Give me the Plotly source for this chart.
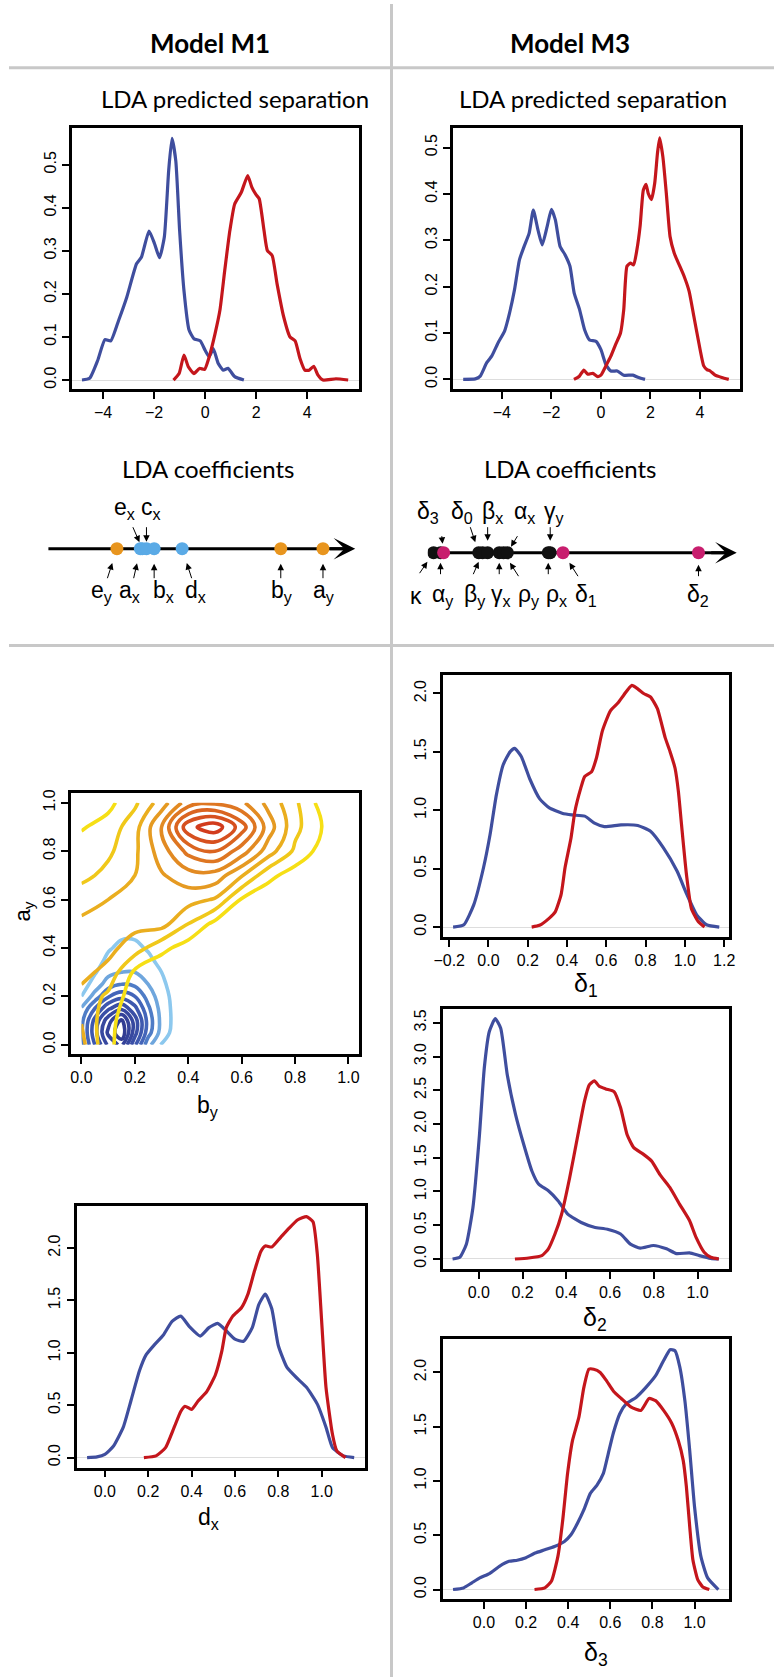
import plotly.graph_objects as go

W, H = 780, 1677

BLUE = "#3F4E9E"
RED = "#C4161C"

# ---------------- LDA predicted separation (density of LD scores) ----------------
m1_sep_blue_x = [-4.83, -4.53, -4.21, -3.93, -3.70, -3.39, -3.07, -2.69, -2.50, -2.20, -1.98, -1.79, -1.60, -1.43, -1.30,
                 -1.15, -1.00, -0.83, -0.63, -0.44, -0.19, 0.0, 0.16, 0.32, 0.51, 0.71, 0.90, 1.16, 1.52]
m1_sep_blue_y = [0, 0.004, 0.046, 0.094, 0.091, 0.139, 0.193, 0.27, 0.285, 0.346, 0.316, 0.284, 0.332, 0.486, 0.561,
                 0.509, 0.347, 0.208, 0.116, 0.096, 0.091, 0.069, 0.054, 0.073, 0.039, 0.023, 0.027, 0.008, 0]
m1_sep_red_x = [-1.24, -1.02, -0.83, -0.66, -0.44, -0.22, -0.02, 0.16, 0.39, 0.58, 0.77, 0.97, 1.16, 1.42, 1.67,
                1.83, 1.99, 2.12, 2.31, 2.44, 2.63, 2.82, 3.08, 3.33, 3.53, 3.72, 3.91, 4.08, 4.26, 4.42, 4.62, 5.13, 5.61]
m1_sep_red_y = [0, 0.015, 0.058, 0.031, 0.015, 0.027, 0.025, 0.054, 0.108, 0.162, 0.255, 0.347, 0.409, 0.436, 0.475,
                0.448, 0.431, 0.421, 0.347, 0.301, 0.289, 0.224, 0.147, 0.100, 0.091, 0.050, 0.023, 0.023, 0.032, 0.012,
                0.0, 0.003, 0]

m3_sep_blue_x = [-5.56, -5.07, -4.87, -4.61, -4.41, -4.15, -3.89, -3.69, -3.49, -3.29, -3.10, -2.90, -2.73, -2.54, -2.37,
                 -2.17, -2.00, -1.84, -1.65, -1.45, -1.25, -1.08, -0.86, -0.66, -0.46, -0.20, 0.0, 0.20, 0.40, 0.66,
                 0.92, 1.29, 1.52, 1.78]
m3_sep_blue_y = [0, 0.001, 0.007, 0.036, 0.05, 0.079, 0.104, 0.143, 0.193, 0.258, 0.287, 0.315, 0.365, 0.322, 0.29,
                 0.33, 0.367, 0.344, 0.287, 0.269, 0.244, 0.186, 0.15, 0.107, 0.085, 0.082, 0.064, 0.032, 0.018, 0.018,
                 0.009, 0.009, 0.004, 0]
m3_sep_red_x = [-1.09, -0.88, -0.69, -0.53, -0.33, -0.13, 0.0, 0.20, 0.40, 0.59, 0.79, 0.92, 1.05, 1.19, 1.32, 1.45,
                1.58, 1.71, 1.82, 1.91, 2.04, 2.17, 2.28, 2.37, 2.50, 2.64, 2.79, 2.96, 3.16, 3.36, 3.56, 3.75, 3.95,
                4.15, 4.28, 4.41, 4.61, 4.88, 5.16]
m3_sep_red_y = [0, 0.006, 0.02, 0.011, 0.013, 0.006, 0.009, 0.029, 0.05, 0.075, 0.10, 0.15, 0.244, 0.251, 0.247, 0.279,
                0.33, 0.408, 0.421, 0.401, 0.388, 0.423, 0.487, 0.521, 0.48, 0.401, 0.308, 0.272, 0.247, 0.222, 0.19,
                0.136, 0.079, 0.029, 0.021, 0.018, 0.009, 0.004, 0]

# ---------------- LDA coefficients (position along the discriminant axis) ----------------
m1_coef_names = ["e<sub>y</sub>", "a<sub>x</sub>", "e<sub>x</sub>", "c<sub>x</sub>", "b<sub>x</sub>", "d<sub>x</sub>",
                 "b<sub>y</sub>", "a<sub>y</sub>"]
m1_coef_vals = [-2.21, -1.60, -1.55, -1.44, -1.24, -0.51, 2.06, 3.16]
m1_coef_group = ["y", "x", "x", "x", "x", "x", "y", "y"]

m3_coef_names = ["κ", "α<sub>y</sub>", "δ<sub>3</sub>", "δ<sub>0</sub>", "β<sub>y</sub>", "β<sub>x</sub>",
                 "γ<sub>x</sub>", "ρ<sub>y</sub>", "α<sub>x</sub>", "ρ<sub>x</sub>", "γ<sub>y</sub>",
                 "δ<sub>1</sub>", "δ<sub>2</sub>"]
m3_coef_vals = [-3.85, -3.67, -3.59, -2.68, -2.58, -2.45, -2.15, -2.04, -1.94, -0.88, -0.83, -0.50, 3.01]
m3_coef_group = ["o", "o", "d", "o", "o", "o", "o", "o", "o", "o", "o", "d", "d"]

# ---------------- joint density of (b_y, a_y): grids ----------------
m1_red_grid_x = [0.0, 0.1, 0.2, 0.3, 0.4, 0.5, 0.6, 0.7, 0.8, 0.9, 1.0]
m1_red_grid_y = [0.0, 0.1, 0.2, 0.3, 0.4, 0.5, 0.6, 0.7, 0.8, 0.9, 1.0]
m1_red_grid_z = [
    [3.3, 1.2, 0.3, 0.0, 0, 0, 0, 0, 0, 0, 0],
    [2.95, 1.3, 0.3, 0.0, 0, 0, 0, 0, 0, 0, 0],
    [2.7, 1.8, 0.4, 0.1, 0, 0, 0, 0, 0, 0, 0],
    [3.3, 2.7, 0.8, 0.2, 0, 0, 0, 0, 0, 0, 0],
    [3.5, 3.3, 2.5, 1.3, 0.5, 0.1, 0, 0, 0, 0, 0],
    [3.2, 3.3, 3.3, 3.4, 2.0, 0.7, 0.2, 0, 0, 0, 0],
    [2.6, 3.0, 3.3, 3.5, 3.4, 2.9, 0.9, 0.3, 0.1, 0, 0],
    [1.7, 2.3, 3.0, 3.9, 4.6, 4.6, 3.1, 1.3, 0.5, 0.1, 0],
    [1.5, 1.8, 2.8, 4.5, 6.3, 7.0, 5.5, 3.5, 1.8, 0.6, 0],
    [0.9, 1.4, 2.6, 5.0, 8.7, 9.6, 7.5, 4.5, 2.3, 1.0, 0.3],
    [0.3, 0.7, 1.8, 3.5, 5.5, 5.8, 5.2, 3.7, 2.2, 0.6, 0.0],
]
m1_blue_grid_x = [0.0, 0.05, 0.10, 0.15, 0.20, 0.25, 0.30, 0.35, 0.40]
m1_blue_grid_y = [0.0, 0.05, 0.10, 0.15, 0.20, 0.25, 0.30, 0.35, 0.40, 0.45, 0.50]
m1_blue_grid_z = [
    [2.6, 5.0, 7.2, 8.3, 5.2, 2.3, 0.9, 0.3, 0.0],
    [2.8, 5.6, 8.2, 9.8, 6.4, 3.4, 1.6, 0.6, 0.1],
    [2.7, 5.3, 7.6, 9.2, 6.5, 3.6, 1.7, 0.7, 0.1],
    [2.1, 4.0, 5.8, 6.8, 5.3, 3.2, 1.6, 0.7, 0.1],
    [1.0, 2.4, 3.9, 4.6, 4.0, 2.6, 1.4, 0.7, 0.1],
    [0.5, 1.4, 2.5, 3.0, 2.8, 2.0, 1.2, 0.6, 0.1],
    [0.3, 0.9, 1.7, 2.0, 2.0, 1.6, 1.0, 0.4, 0.0],
    [0.2, 0.6, 1.2, 1.5, 1.5, 1.2, 0.7, 0.2, 0.0],
    [0.1, 0.3, 0.9, 1.2, 1.2, 0.9, 0.4, 0.1, 0.0],
    [0.0, 0.1, 0.6, 0.9, 0.9, 0.6, 0.2, 0.0, 0.0],
    [0.0, 0.0, 0.3, 0.5, 0.5, 0.3, 0.1, 0.0, 0.0],
]

# ---------------- marginal posteriors ----------------
dx_blue_x = [-0.082, -0.036, 0.0, 0.04, 0.085, 0.12, 0.16, 0.19, 0.23, 0.27, 0.31, 0.35, 0.39, 0.44, 0.48, 0.52,
             0.56, 0.60, 0.64, 0.68, 0.71, 0.74, 0.77, 0.80, 0.84, 0.89, 0.93, 0.98, 1.02, 1.05, 1.10, 1.15]
dx_blue_y = [0, 0.006, 0.03, 0.11, 0.29, 0.54, 0.83, 0.98, 1.08, 1.17, 1.30, 1.35, 1.25, 1.16, 1.24, 1.28,
             1.21, 1.13, 1.11, 1.24, 1.46, 1.56, 1.42, 1.07, 0.86, 0.75, 0.67, 0.51, 0.29, 0.095, 0.016, 0]
dx_red_x = [0.18, 0.236, 0.28, 0.32, 0.35, 0.37, 0.40, 0.43, 0.47, 0.51, 0.54, 0.56, 0.59, 0.63, 0.66, 0.69, 0.72,
            0.74, 0.77, 0.81, 0.85, 0.89, 0.93, 0.96, 0.98, 1.00, 1.02, 1.05, 1.07, 1.11]
dx_red_y = [0, 0.016, 0.095, 0.29, 0.44, 0.49, 0.46, 0.54, 0.63, 0.79, 1.02, 1.24, 1.35, 1.43, 1.56, 1.78, 1.97,
            2.02, 2.01, 2.10, 2.19, 2.27, 2.30, 2.25, 1.94, 1.30, 0.67, 0.22, 0.063, 0]

d1_blue_x = [-0.18, -0.125, -0.075, -0.025, 0.008, 0.04, 0.075, 0.11, 0.133, 0.167, 0.21, 0.26, 0.31, 0.375, 0.425,
             0.49, 0.54, 0.59, 0.675, 0.76, 0.825, 0.89, 0.96, 1.01, 1.06, 1.11, 1.175]
d1_blue_y = [0, 0.02, 0.19, 0.51, 0.79, 1.13, 1.39, 1.50, 1.53, 1.46, 1.27, 1.10, 1.02, 0.975, 0.96,
             0.95, 0.89, 0.86, 0.875, 0.87, 0.82, 0.68, 0.48, 0.28, 0.105, 0.02, 0]
d1_red_x = [0.22, 0.26, 0.31, 0.34, 0.37, 0.39, 0.42, 0.44, 0.47, 0.49, 0.525, 0.55, 0.58, 0.62, 0.66, 0.69, 0.73,
            0.76, 0.79, 0.825, 0.86, 0.90, 0.925, 0.95, 0.967, 0.983, 1.008, 1.033, 1.067, 1.10]
d1_red_y = [0, 0.015, 0.077, 0.13, 0.28, 0.51, 0.76, 0.99, 1.19, 1.29, 1.33, 1.45, 1.68, 1.85, 1.92, 1.99, 2.07,
            2.04, 2.0, 1.97, 1.87, 1.62, 1.50, 1.36, 1.16, 0.875, 0.45, 0.16, 0.05, 0]

d2_blue_x = [-0.12, -0.087, -0.057, -0.027, 0.003, 0.025, 0.048, 0.075, 0.10, 0.13, 0.168, 0.205, 0.243, 0.273, 0.318,
             0.363, 0.408, 0.468, 0.528, 0.588, 0.648, 0.693, 0.738, 0.798, 0.858, 0.903, 0.963, 1.008, 1.06, 1.097]
d2_blue_y = [0, 0.025, 0.22, 0.76, 1.84, 2.83, 3.37, 3.56, 3.42, 2.73, 2.14, 1.70, 1.30, 1.11, 1.01,
             0.86, 0.66, 0.54, 0.47, 0.44, 0.37, 0.22, 0.16, 0.20, 0.15, 0.08, 0.09, 0.05, 0.01, 0]
d2_red_x = [0.165, 0.228, 0.288, 0.318, 0.348, 0.378, 0.415, 0.453, 0.483, 0.505, 0.528, 0.55, 0.58, 0.618, 0.648,
            0.678, 0.708, 0.753, 0.79, 0.828, 0.873, 0.918, 0.963, 0.993, 1.03, 1.06, 1.097]
d2_red_y = [0, 0.015, 0.05, 0.15, 0.37, 0.66, 1.20, 1.84, 2.34, 2.58, 2.64, 2.56, 2.52, 2.48, 2.24,
            1.84, 1.65, 1.55, 1.45, 1.25, 1.06, 0.81, 0.57, 0.32, 0.1, 0.025, 0]

d3_blue_x = [-0.147, -0.097, -0.059, -0.02, 0.026, 0.073, 0.119, 0.158, 0.196, 0.243, 0.289, 0.335, 0.382, 0.413,
             0.444, 0.474, 0.505, 0.536, 0.567, 0.59, 0.614, 0.645, 0.675, 0.722, 0.768, 0.815, 0.853, 0.884, 0.907,
             0.930, 0.954, 0.977, 1.0, 1.03, 1.062, 1.113]
d3_blue_y = [0, 0.015, 0.06, 0.107, 0.147, 0.214, 0.26, 0.27, 0.29, 0.336, 0.366, 0.397, 0.443, 0.504,
             0.61, 0.733, 0.886, 0.96, 1.07, 1.25, 1.44, 1.62, 1.71, 1.77, 1.86, 1.97, 2.11, 2.21, 2.20,
             2.05, 1.74, 1.28, 0.76, 0.305, 0.107, 0]
d3_red_x = [0.24, 0.289, 0.32, 0.351, 0.374, 0.397, 0.42, 0.451, 0.474, 0.498, 0.521, 0.552, 0.583, 0.614, 0.652,
            0.699, 0.745, 0.784, 0.815, 0.853, 0.892, 0.923, 0.946, 0.961, 0.977, 0.992, 1.015, 1.039, 1.07]
d3_red_y = [0, 0.015, 0.076, 0.305, 0.64, 1.07, 1.37, 1.59, 1.86, 2.03, 2.03, 2.0, 1.92, 1.83, 1.76,
            1.68, 1.65, 1.76, 1.74, 1.65, 1.53, 1.37, 1.19, 0.95, 0.58, 0.275, 0.092, 0.024, 0]


def pxx(p):
    return p / W


def pxy(p):
    return 1 - p / H


TICKFONT = "Liberation Sans, Arial, sans-serif"
fig = go.Figure()


def sfx(n):
    return "" if n == 1 else str(n)


def frame_axes(n, box, xr, yr, xticks, yticks, xfmt, yfmt, fs, zero=True):
    # R-style boxed panel: full frame, outward ticks on left/bottom, rotated y labels
    l, t, r, b = box
    s = sfx(n)
    common = dict(showline=True, linecolor="black", linewidth=2.6, mirror=True,
                  ticks="outside", ticklen=7, tickwidth=2.2, tickcolor="black",
                  showgrid=False, tickfont=dict(family=TICKFONT, size=fs, color="black"))
    fig.update_layout(**{
        "xaxis" + s: dict(domain=[pxx(l), pxx(r)], range=xr, anchor="y" + s, tickvals=xticks,
                          tickformat=xfmt, zeroline=False, **common),
        "yaxis" + s: dict(domain=[pxy(b), pxy(t)], range=yr, anchor="x" + s, tickvals=yticks,
                          tickformat=yfmt, tickangle=-90, zeroline=zero, zerolinecolor="#dddddd",
                          zerolinewidth=1, **common),
    })


def curve(n, x, y, color):
    s = sfx(n)
    fig.add_trace(go.Scatter(x=x, y=y, mode="lines", xaxis="x" + s, yaxis="y" + s,
                             line=dict(color=color, width=3.2, shape="spline", smoothing=0.5),
                             hoverinfo="skip", showlegend=False))


# panel 1 & 2 : predicted separation
frame_axes(1, (64, 124, 357, 386), [-5.23, 6.04], [-0.021, 0.586], [-4, -2, 0, 2, 4],
           [0, 0.1, 0.2, 0.3, 0.4, 0.5], "", ".1f", 16)
curve(1, m1_sep_blue_x, m1_sep_blue_y, BLUE)
curve(1, m1_sep_red_x, m1_sep_red_y, RED)

frame_axes(2, (453, 124, 745, 386), [-5.96, 5.6], [-0.021, 0.543], [-4, -2, 0, 2, 4],
           [0, 0.1, 0.2, 0.3, 0.4, 0.5], "", ".1f", 16)
curve(2, m3_sep_blue_x, m3_sep_blue_y, BLUE)
curve(2, m3_sep_red_x, m3_sep_red_y, RED)

# panel 3 & 4 : coefficient number lines (hidden axes)
annotations = []


def coef_line(n, x0px, x1px, ypx, names, vals, colors, label_specs):
    s = sfx(n)
    fig.update_layout(**{
        "xaxis" + s: dict(domain=[pxx(x0px), pxx(x1px)], range=[-4, 4], anchor="y" + s, visible=False),
        "yaxis" + s: dict(domain=[pxy(ypx + 50), pxy(ypx - 50)], range=[-1, 1], anchor="x" + s, visible=False),
    })
    fig.add_trace(go.Scatter(x=[-4, 3.7], y=[0, 0], mode="lines", xaxis="x" + s, yaxis="y" + s,
                             line=dict(color="black", width=3), hoverinfo="skip", showlegend=False))
    fig.add_trace(go.Scatter(x=vals, y=[0] * len(vals), mode="markers", xaxis="x" + s, yaxis="y" + s,
                             marker=dict(size=13, color=colors, line=dict(width=0)),
                             hoverinfo="skip", showlegend=False))
    annotations.append(dict(x=4, y=0, ax=3.3, ay=0, xref="x" + s, yref="y" + s, axref="x" + s,
                            ayref="y" + s, text="", showarrow=True, arrowhead=3, arrowsize=1.2,
                            arrowwidth=3, arrowcolor="black"))
    xpx_per = (x1px - x0px) / 8.0
    for name, v, (cx, side, tx, ty, so) in zip(names, vals, label_specs):
        dot_px = x0px + (v + 4) * xpx_per
        ly = 40 if side == "t" else -43
        annotations.append(dict(x=v, y=0, xref="x" + s, yref="y" + s, text=name, showarrow=False,
                                xshift=cx - dot_px, yshift=ly,
                                font=dict(family=TICKFONT, size=23, color="black")))
        annotations.append(dict(x=v, y=0, xref="x" + s, yref="y" + s, text="", showarrow=True,
                                ax=tx, ay=ty, arrowhead=2, arrowsize=1.3, arrowwidth=1,
                                standoff=so, arrowcolor="black"))


ORANGE_DOT, BLUE_DOT, PINK_DOT = "#E8951E", "#5AAAE6", "#C81E6E"
m1_label_specs = [(95, "b", -10, 31, 15), (123, "b", -7, 31, 15), (118, "t", -10, -23, 7), (145, "t", 0, -23, 7),
                  (157, "b", 0, 31, 15), (190, "b", 10, 31, 15), (278, "b", 0, 31, 15), (321, "b", 0, 31, 15)]
coef_line(3, 40, 353, 546, m1_coef_names, m1_coef_vals,
          [ORANGE_DOT if g == "y" else BLUE_DOT for g in m1_coef_group], m1_label_specs)

m3_label_specs = [(415, "b", -15, 22, 11), (442, "b", 0, 23, 10), (428, "t", -2, -18, 9), (462, "t", -9, -27, 11),
                  (475, "b", -10, 23, 10), (493, "t", 0, -27, 12), (502, "b", 0, 23, 10), (530, "b", 16, 25, 12),
                  (525, "t", 11, -18, 7), (558, "b", 0, 23, 10), (556, "t", 0, -27, 12), (588, "b", 16, 25, 12),
                  (703, "b", 0, 25, 12)]
m3_order = sorted(range(len(m3_coef_vals)), key=lambda i: m3_coef_group[i] == "d")
coef_line(4, 427, 742, 550, [m3_coef_names[i] for i in m3_order], [m3_coef_vals[i] for i in m3_order],
          [PINK_DOT if m3_coef_group[i] == "d" else "#111111" for i in m3_order],
          [m3_label_specs[i] for i in m3_order])

# panel 5 : contour plot of (b_y, a_y)
frame_axes(5, (63, 791, 357, 1053), [-0.04, 1.04], [-0.04, 1.04], [0, 0.2, 0.4, 0.6, 0.8, 1.0],
           [0, 0.2, 0.4, 0.6, 0.8, 1.0], ".1f", ".1f", 16, zero=False)
blue_levels = ["#8CC8EE", "#6FA6DD", "#4F7CC6", "#4465B9", "#3E58AE", "#3A4FA6", "#37489F", "#344299", "#313C92"]
red_levels = ["#F6DF15", "#F0C81A", "#EAAE1F", "#E59A22", "#E28A22", "#DE7622", "#DA6420", "#D6501F", "#D23C1D"]
for gx, gy, gz, cols in [(m1_blue_grid_x, m1_blue_grid_y, m1_blue_grid_z, blue_levels),
                         (m1_red_grid_x, m1_red_grid_y, m1_red_grid_z, red_levels)]:
    fig.add_trace(go.Contour(x=gx, y=gy, z=gz, xaxis="x5", yaxis="y5", zmin=1, zmax=9,
                             colorscale=[[i / 8, c] for i, c in enumerate(cols)], showscale=False,
                             autocontour=False, contours=dict(coloring="lines", start=1, end=9, size=1),
                             line=dict(width=3.6, smoothing=1.1), hoverinfo="skip"))

# panel 6 : d_x
frame_axes(6, (69, 1205, 363, 1467), [-0.13, 1.2], [-0.095, 2.4], [0, 0.2, 0.4, 0.6, 0.8, 1.0],
           [0, 0.5, 1.0, 1.5, 2.0], ".1f", ".1f", 16)
curve(6, dx_blue_x, dx_blue_y, BLUE)
curve(6, dx_red_x, dx_red_y, RED)

# panels 7-9 : delta_1..3
frame_axes(7, (442, 673, 734, 935), [-0.234, 1.224], [-0.083, 2.155],
           [-0.2, 0, 0.2, 0.4, 0.6, 0.8, 1.0, 1.2], [0, 0.5, 1.0, 1.5, 2.0], ".1f", ".1f", 16)
curve(7, d1_blue_x, d1_blue_y, BLUE)
curve(7, d1_red_x, d1_red_y, RED)

frame_axes(8, (442, 1007, 734, 1268), [-0.166, 1.143], [-0.148, 3.71], [0, 0.2, 0.4, 0.6, 0.8, 1.0],
           [0, 0.5, 1.0, 1.5, 2.0, 2.5, 3.0, 3.5], ".1f", ".1f", 16)
curve(8, d2_blue_x, d2_blue_y, BLUE)
curve(8, d2_red_x, d2_red_y, RED)

frame_axes(9, (442, 1338, 734, 1599), [-0.197, 1.163], [-0.089, 2.31], [0, 0.2, 0.4, 0.6, 0.8, 1.0],
           [0, 0.5, 1.0, 1.5, 2.0], ".1f", ".1f", 16)
curve(9, d3_blue_x, d3_blue_y, BLUE)
curve(9, d3_red_x, d3_red_y, RED)

# ---------------- texts ----------------
HEAD = "Lato, 'Open Sans', sans-serif"


def paper_text(x, y, text, size, family, angle=0):
    annotations.append(dict(x=pxx(x), y=pxy(y), xref="paper", yref="paper", text=text, showarrow=False,
                            xanchor="center", yanchor="middle", textangle=angle,
                            font=dict(family=family, size=size, color="black")))


paper_text(205, 39, "<b>Model M1</b>", 26, HEAD)
paper_text(572, 39, "<b>Model M3</b>", 26, HEAD)
paper_text(230, 95, "LDA predicted separation", 24, HEAD)
paper_text(595, 95, "LDA predicted separation", 24, HEAD)
paper_text(203, 466, "LDA coefficients", 24, HEAD)
paper_text(572, 466, "LDA coefficients", 24, HEAD)
paper_text(203, 1105, "b<sub>y</sub>", 23, TICKFONT)
paper_text(15, 910, "a<sub>y</sub>", 22, TICKFONT, angle=-90)
paper_text(203, 1518, "d<sub>x</sub>", 23, TICKFONT)
paper_text(588, 983, "δ<sub>1</sub>", 25, TICKFONT)
paper_text(597, 1318, "δ<sub>2</sub>", 25, TICKFONT)
paper_text(598, 1654, "δ<sub>3</sub>", 25, TICKFONT)

# grey dividers of the figure table
GREY = "#c8c8c8"
shapes = [
    dict(type="line", xref="paper", yref="paper", x0=0, x1=1, y0=pxy(64), y1=pxy(64), line=dict(color=GREY, width=3)),
    dict(type="line", xref="paper", yref="paper", x0=0, x1=1, y0=pxy(643), y1=pxy(643), line=dict(color=GREY, width=3)),
    dict(type="line", xref="paper", yref="paper", x0=pxx(390), x1=pxx(390), y0=0, y1=1, line=dict(color=GREY, width=3)),
]

fig.update_layout(width=W, height=H, margin=dict(l=0, r=0, t=0, b=0), paper_bgcolor="white",
                  plot_bgcolor="white", showlegend=False, annotations=annotations, shapes=shapes)

fig.write_html("out.html", config={"displayModeBar": False},
               post_script="document.body.style.margin='0px';")
